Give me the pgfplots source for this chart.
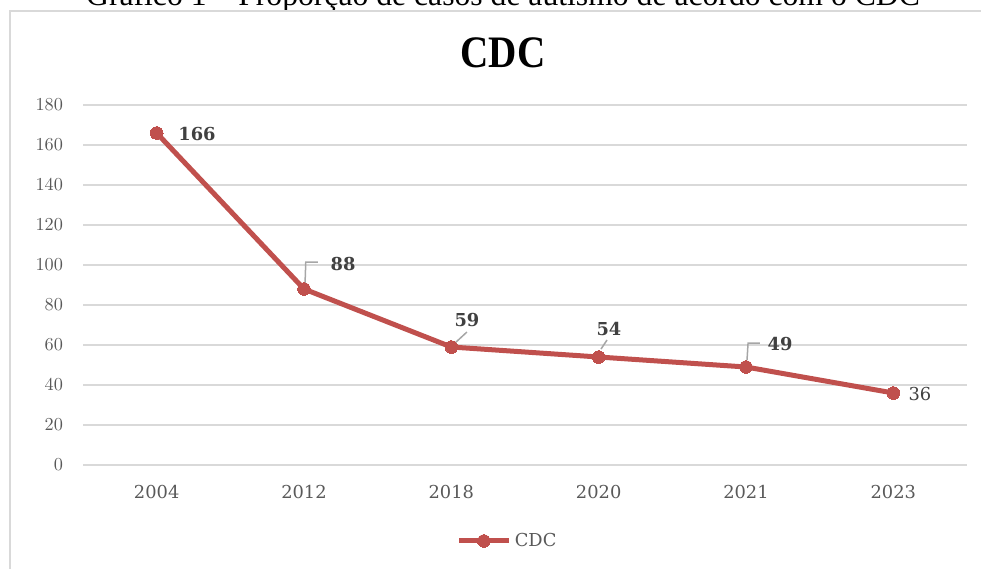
\documentclass[border=0pt]{standalone}
\usepackage{pgfplots}
\pgfplotsset{compat=1.18}
\usepackage{fontspec}
\setmainfont{DejaVu Serif}
\newfontfamily\timesf{Liberation Serif}
\definecolor{cdcred}{HTML}{C0504D}
\definecolor{gridgray}{HTML}{D9D9D9}
\definecolor{tickgray}{HTML}{595959}
\definecolor{labgray}{HTML}{404040}
\definecolor{leadgray}{HTML}{A6A6A6}
\begin{document}
\begin{tikzpicture}
\useasboundingbox (0pt,0pt) rectangle (588.6pt,340.8pt);
\clip (0pt,0pt) rectangle (588.6pt,340.8pt);
\begin{scope}[x=0.6pt,y=0.6pt]
% caption (cut at top)
\node[anchor=base, font=\timesf\fontsize{19}{22}\selectfont, inner sep=0pt] at (503,562) {Gráfico 1 – Proporção de casos de autismo de acordo com o CDC};
% chart border
\draw[gridgray, line width=1.2pt] (10,-10) -- (10,557) -- (1000,557);
% title
\node[font=\timesf\bfseries\fontsize{27}{30}\selectfont, xscale=0.87, inner sep=0pt, anchor=base] at (503,568-68) {CDC};
\end{scope}
\begin{axis}[
  at={(49.8pt,61.8pt)}, anchor=south west,
  scale only axis, width=530.4pt, height=216pt,
  xmin=-0.5, xmax=5.5, ymin=0, ymax=180,
  xtick={0,1,2,3,4,5},
  xticklabels={2004,2012,2018,2020,2021,2023},
  ytick={0,20,...,180},
  ymajorgrids, grid style={gridgray, line width=0.9pt},
  axis line style={draw=none},
  major tick length=0pt,
  tick label style={font=\fontsize{10.7}{12}\selectfont, text=tickgray},
  yticklabel style={xshift=-8.5pt},
  xticklabel style={yshift=-8.5pt},
  clip=false,
  legend style={at={(0.481,-0.211)}, anchor=center, draw=none, fill=none,
    font=\fontsize{10.7}{12}\selectfont\color{tickgray}, inner sep=0pt,
    legend cell align=left},
  legend image code/.code={\draw[#1, mark repeat=2, mark phase=2] plot coordinates {(0cm,0cm) (0.52cm,0cm) (1.05cm,0cm)};},
]
\draw[gridgray, line width=0.9pt] (axis cs:-0.5,0) -- (axis cs:5.5,0);
\addplot[cdcred, line width=3pt, mark=*, mark size=3.8pt, mark options={solid, fill=cdcred, draw=cdcred, line width=0pt}]
  coordinates {(0,166) (1,88) (2,59) (3,54) (4,49) (5,36)};
\addlegendentry{CDC}
% leader lines
\draw[leadgray, line width=0.9pt] (axis cs:1.007,90.5) -- (axis cs:1.012,101.5) -- (axis cs:1.095,101.5);
\draw[leadgray, line width=0.9pt] (axis cs:2.025,61) -- (axis cs:2.106,66.5);
\draw[leadgray, line width=0.9pt] (axis cs:3.016,58) -- (axis cs:3.057,62.5);
\draw[leadgray, line width=0.9pt] (axis cs:4.007,52.5) -- (axis cs:4.014,61) -- (axis cs:4.095,61);
% data labels
\begin{scope}[every node/.style={font=\bfseries\fontsize{10.7}{12}\selectfont, text=labgray, inner sep=0pt}]
\node at (axis cs:0.274,165.5) {166};
\node at (axis cs:1.265,100.5) {88};
\node at (axis cs:2.106,72.5) {59};
\node at (axis cs:3.07,68) {54};
\node at (axis cs:4.231,60.5) {49};
\end{scope}
\node[font=\fontsize{10.7}{12}\selectfont, text=labgray, inner sep=0pt] at (axis cs:5.181,35.5) {36};
\end{axis}
\end{tikzpicture}
\end{document}
